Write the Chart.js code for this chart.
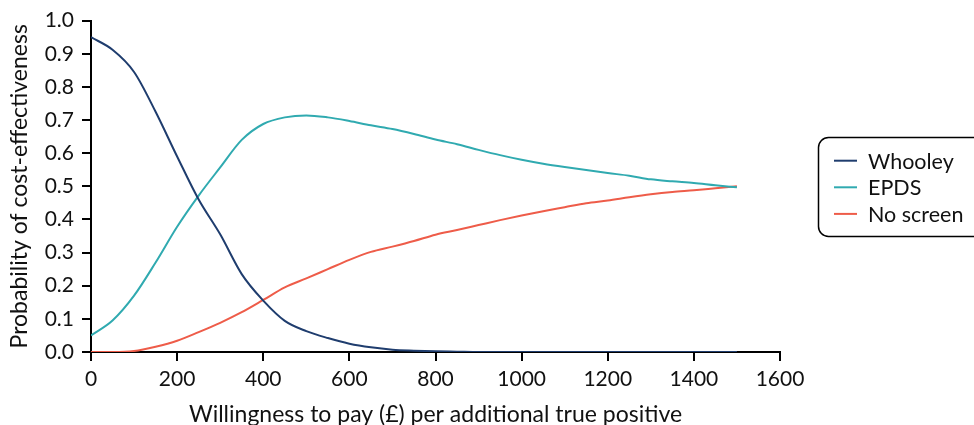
<!DOCTYPE html>
<html>
<head>
<meta charset="utf-8">
<script src="https://cdn.jsdelivr.net/npm/chart.js@4"></script>
<style>
html,body{margin:0;padding:0;background:#fff;}
#wrap{width:974px;height:425px;position:relative;}
</style>
</head>
<body>
<div id="wrap"><canvas id="c" width="974" height="425"></canvas></div>
<script>
const wtp = [0,50,100,150,200,250,300,350,400,450,500,550,600,650,700,750,800,850,900,950,1000,1050,1100,1150,1200,1250,1300,1350,1400,1450,1500];
const whooley = [0.95,0.912,0.845,0.725,0.59,0.46,0.355,0.235,0.155,0.094,0.063,0.042,0.025,0.014,0.007,0.004,0.002,0.001,0,0,0,0,0,0,0,0,0,0,0,0,0];
const epds = [0.05,0.095,0.17,0.27,0.378,0.472,0.557,0.64,0.688,0.708,0.714,0.708,0.697,0.684,0.673,0.658,0.641,0.627,0.61,0.594,0.58,0.568,0.558,0.549,0.54,0.532,0.521,0.515,0.51,0.503,0.497];
const noScreen = [0,0,0.003,0.016,0.034,0.06,0.088,0.12,0.157,0.195,0.222,0.25,0.278,0.302,0.318,0.335,0.354,0.368,0.383,0.398,0.412,0.425,0.437,0.449,0.457,0.467,0.476,0.483,0.488,0.494,0.5];
const seriesNames = ["Whooley","EPDS","No screen"];
const colors = ["#1f3d6e","#30aab0","#ee5c49"];
const xTitle = "Willingness to pay (£) per additional true positive";
const yTitle = "Probability of cost-effectiveness";

const FONT = "Lato, 'Open Sans', sans-serif";
const toPts = arr => arr.map((v,i)=>({x:wtp[i], y:v}));

const boxLegend = {
  id:'boxLegend',
  afterDraw(chart){
    const ctx = chart.ctx;
    ctx.save();
    const x0=818.5, y0=137.5, w=170, h=99, r=10;
    ctx.beginPath();
    ctx.moveTo(x0+r,y0);
    ctx.lineTo(x0+w-r,y0);
    ctx.arcTo(x0+w,y0,x0+w,y0+r,r);
    ctx.lineTo(x0+w,y0+h-r);
    ctx.arcTo(x0+w,y0+h,x0+w-r,y0+h,r);
    ctx.lineTo(x0+r,y0+h);
    ctx.arcTo(x0,y0+h,x0,y0+h-r,r);
    ctx.lineTo(x0,y0+r);
    ctx.arcTo(x0,y0,x0+r,y0,r);
    ctx.closePath();
    ctx.lineWidth=1.5; ctx.strokeStyle='#000'; ctx.stroke();
    ctx.font = "21.5px " + FONT;
    ctx.textBaseline='middle'; ctx.textAlign='left';
    chart.data.datasets.forEach((ds,i)=>{
      const y = 160.7 + i*26.6;
      ctx.beginPath(); ctx.moveTo(834,y); ctx.lineTo(857,y);
      ctx.strokeStyle=ds.borderColor; ctx.lineWidth=2; ctx.stroke();
      ctx.fillStyle='#111'; ctx.fillText(ds.label, 868, y+1);
    });
    ctx.restore();
  }
};

new Chart(document.getElementById('c'), {
  type:'line',
  data:{
    datasets:[
      {label:seriesNames[0], data:toPts(whooley), borderColor:colors[0]},
      {label:seriesNames[1], data:toPts(epds), borderColor:colors[1]},
      {label:seriesNames[2], data:toPts(noScreen), borderColor:colors[2]}
    ].map(d=>Object.assign(d,{borderWidth:2,pointRadius:0,fill:false,cubicInterpolationMode:'monotone'}))
  },
  options:{
    responsive:false, animation:false, devicePixelRatio:1,
    layout:{padding:{left:0,right:194,top:20,bottom:0}},
    plugins:{legend:{display:false}, tooltip:{enabled:false}},
    scales:{
      x:{
        type:'linear', min:0, max:1600,
        ticks:{stepSize:200, color:'#111', font:{family:FONT,size:21}, padding:6, maxRotation:0, callback:v=>String(v)},
        grid:{drawOnChartArea:false, drawTicks:true, tickLength:9, color:'#000', lineWidth:2},
        border:{display:true,color:'#000',width:2},
        title:{display:true,text:xTitle,color:'#111',font:{family:FONT,size:23,lineHeight:1},padding:{top:0,bottom:-1}},
        afterFit(s){ s.height = 73; }
      },
      y:{
        min:0, max:1,
        ticks:{stepSize:0.1, color:'#111', font:{family:FONT,size:21}, padding:8, callback:v=>Number(v).toFixed(1)},
        grid:{drawOnChartArea:false, drawTicks:true, tickLength:9, color:'#000', lineWidth:2},
        border:{display:true,color:'#000',width:2},
        title:{display:true,text:yTitle,color:'#111',font:{family:FONT,size:23,lineHeight:1},padding:{top:8,bottom:0}},
        afterFit(s){ s.width = 91; }
      }
    }
  },
  plugins:[boxLegend]
});
</script>
</body>
</html>
